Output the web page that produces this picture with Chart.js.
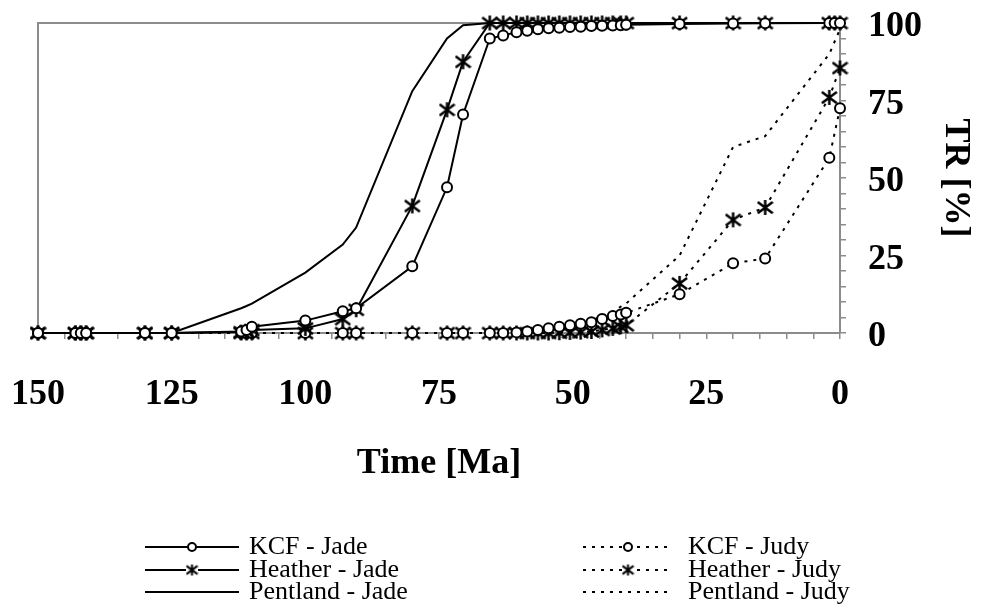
<!DOCTYPE html>
<html>
<head>
<meta charset="utf-8">
<script src="https://cdn.jsdelivr.net/npm/chart.js@4/dist/chart.umd.min.js"></script>
<style>
  html, body { margin: 0; padding: 0; background: #fff; }
  #wrap { width: 982px; height: 608px; position: relative; }
</style>
</head>
<body>
<div id="wrap"><canvas id="tr-chart"></canvas></div>
<script>
// time axis (Ma) shared by all series
const timesMa = [150, 143, 142, 141, 130, 125, 112, 111, 110, 100, 93, 90.5, 80, 73.5, 70.5, 65.5,
    63, 60.5, 58.5, 56.5, 54.5, 52.5, 50.5, 48.5, 46.5, 44.5, 42.5, 41, 40, 30, 20, 14, 2, 1, 0];

// transformation ratio, %
const kcfJade = [0, 0, 0, 0, 0, 0, 0.5, 1, 2, 4, 7, 8, 21.5, 47, 70.5, 95,
    96, 97, 97.5, 98, 98.3, 98.5, 98.7, 98.8, 99, 99.1, 99.2, 99.3, 99.4, 99.7, 99.8, 99.9, 100, 100, 100];
const heatherJade = [0, 0, 0, 0, 0, 0, 0.3, 0.5, 1, 1.5, 4.5, 7.5, 41, 72, 87.5, 100,
    100, 100, 100, 100, 100, 100, 100, 100, 100, 100, 100, 100, 100, 100, 100, 100, 100, 100, 100];
const pentlandJade = [0, 0, 0, 0, 0, 0, 8, 8.7, 9.5, 19.5, 28.5, 34, 78, 95, 99.3, 100,
    100, 100, 100, 100, 100, 100, 100, 100, 100, 100, 100, 100, 100, 100, 100, 100, 100, 100, 100];
const kcfJudy = [0, 0, 0, 0, 0, 0, 0, 0, 0, 0, 0, 0, 0, 0, 0, 0,
    0, 0.2, 0.5, 1, 1.5, 2, 2.5, 3, 3.5, 4.5, 5.5, 6, 6.5, 12.5, 22.5, 24, 56.5, null, 72.5];
const heatherJudy = [0, 0, 0, 0, 0, 0, 0, 0, 0, 0, 0, 0, 0, 0, 0, 0,
    0, 0, 0, 0, 0, 0.1, 0.2, 0.3, 0.5, 1, 1.5, 2, 2.5, 16, 36.5, 40.5, 76, null, 85.5];
const pentlandJudy = [0, 0, 0, 0, 0, 0, 0, 0, 0, 0, 0, 0, 0, 0, 0, 0,
    0, 0.2, 0.4, 0.7, 1, 1.5, 2, 3, 4, 5.5, 7, 8.5, 9.5, 25, 60, 63.5, 90, null, 98];

const seriesLabels = ['KCF - Jade', 'Heather - Jade', 'Pentland - Jade',
    'KCF - Judy', 'Heather - Judy', 'Pentland - Judy'];
const xTickLabels = [0, 25, 50, 75, 100, 125, 150];
const yTickLabels = [0, 25, 50, 75, 100];

const serif = "'Liberation Serif', 'Times New Roman', serif";
const gray = '#8c8c8c';
const dotted = [3, 6];

// excel-like asterisk marker
function makeStar(size, lw) {
    const c = document.createElement('canvas');
    c.width = size;
    c.height = size;
    const g = c.getContext('2d');
    const m = size / 2, r = size / 2 - 1;
    g.strokeStyle = '#000';
    g.lineWidth = lw;
    g.beginPath();
    g.moveTo(m, m - r); g.lineTo(m, m + r);
    g.moveTo(m - r, m - r * 0.75); g.lineTo(m + r, m + r * 0.75);
    g.moveTo(m + r, m - r * 0.75); g.lineTo(m - r, m + r * 0.75);
    g.stroke();
    return c;
}
const starMark = makeStar(17, 2.5);
const starSmall = makeStar(13, 2);

function toPoints(values) {
    return values.map((v, i) => ({ x: timesMa[i], y: v }));
}

function series(label, values, opts) {
    return Object.assign({
        label: label,
        data: toPoints(values),
        borderColor: '#000',
        backgroundColor: '#fff',
        borderWidth: 2,
        pointRadius: 0,
        pointBorderWidth: 2,
        pointBorderColor: '#000',
        pointBackgroundColor: '#fff',
        spanGaps: true,
        tension: 0,
        clip: false,
    }, opts);
}

const datasets = [
    series(seriesLabels[0], kcfJade, { pointStyle: 'circle', pointRadius: 5 }),
    series(seriesLabels[1], heatherJade, { pointStyle: starMark, pointRadius: 8 }),
    series(seriesLabels[2], pentlandJade, {}),
    series(seriesLabels[3], kcfJudy, { borderDash: dotted, pointStyle: 'circle', pointRadius: 5 }),
    series(seriesLabels[4], heatherJudy, { borderDash: dotted, pointStyle: starMark, pointRadius: 8 }),
    series(seriesLabels[5], pentlandJudy, { borderDash: dotted }),
];

// gray frame on top and left of the plot
const framePlugin = {
    id: 'frame',
    beforeDatasetsDraw(chart) {
        const { ctx, chartArea: a } = chart;
        ctx.save();
        ctx.strokeStyle = gray;
        ctx.lineWidth = 2;
        ctx.beginPath();
        ctx.moveTo(a.left, a.bottom);
        ctx.lineTo(a.left, a.top);
        ctx.lineTo(a.right, a.top);
        ctx.stroke();
        ctx.restore();
    }
};

// two column legend under the axis title
const legendPlugin = {
    id: 'twoColLegend',
    afterDraw(chart) {
        const ctx = chart.ctx;
        const rowsY = [547, 570, 592];
        chart.data.datasets.forEach((ds, i) => {
            const col = i < 3 ? 0 : 1;
            const y = rowsY[i % 3];
            const x0 = col ? 583 : 145;
            const x1 = col ? 673 : 239;
            const tx = col ? 688 : 249;
            ctx.save();
            ctx.strokeStyle = '#000';
            ctx.lineWidth = 2;
            ctx.setLineDash(ds.borderDash || []);
            ctx.beginPath();
            ctx.moveTo(x0, y);
            ctx.lineTo(x1, y);
            ctx.stroke();
            ctx.setLineDash([]);
            const mx = (x0 + x1) / 2;
            if (ds.pointStyle === 'circle') {
                ctx.fillStyle = '#fff';
                ctx.beginPath();
                ctx.arc(mx, y, 4, 0, Math.PI * 2);
                ctx.fill();
                ctx.stroke();
            } else if (ds.pointStyle) {
                ctx.fillStyle = '#fff';
                ctx.fillRect(mx - 6, y - 2, 12, 4);
                ctx.drawImage(starSmall, mx - 6.5, y - 6.5);
            }
            ctx.fillStyle = '#000';
            ctx.font = '26px ' + serif;
            ctx.textBaseline = 'middle';
            ctx.textAlign = 'left';
            ctx.fillText(ds.label, tx, y);
            ctx.restore();
        });
    }
};

function noScalePadding(scale) {
    scale.paddingLeft = 0;
    scale.paddingRight = 0;
    scale.paddingTop = 0;
    scale.paddingBottom = 0;
}

const ctx = document.getElementById('tr-chart').getContext('2d');
new Chart(ctx, {
    type: 'line',
    data: { datasets: datasets },
    options: {
        responsive: true,
        maintainAspectRatio: false,
        animation: false,
        layout: { padding: { left: 38, top: 23, right: 0, bottom: 75 } },
        plugins: {
            legend: { display: false },
            tooltip: { enabled: false },
        },
        scales: {
            x: {
                type: 'linear',
                reverse: true,
                min: 0,
                max: 150,
                afterFit: (scale) => { scale.height = 200; noScalePadding(scale); },
                border: { display: true, color: gray, width: 2 },
                grid: { drawOnChartArea: false, drawTicks: true, tickLength: 6, color: gray, lineWidth: 1.5 },
                ticks: {
                    stepSize: 5,
                    autoSkip: false,
                    maxRotation: 0,
                    padding: 34,
                    color: '#000',
                    font: { family: serif, size: 36, weight: 'bold' },
                    callback: (v) => xTickLabels.includes(v) ? String(v) : '',
                },
                title: {
                    display: true,
                    text: 'Time [Ma]',
                    color: '#000',
                    font: { family: serif, size: 36, weight: 'bold' },
                    padding: { top: 0, bottom: 48 },
                },
            },
            y: {
                type: 'linear',
                position: 'right',
                min: 0,
                max: 100,
                afterFit: (scale) => { scale.width = 142; noScalePadding(scale); },
                border: { display: true, color: gray, width: 2 },
                grid: { drawOnChartArea: false, drawTicks: true, tickLength: 6, color: gray, lineWidth: 1.5 },
                ticks: {
                    stepSize: 5,
                    autoSkip: false,
                    padding: 22,
                    labelOffset: 4,
                    color: '#000',
                    font: { family: serif, size: 36, weight: 'bold' },
                    callback: (v) => yTickLabels.includes(v) ? String(v) : '',
                },
                title: {
                    display: true,
                    text: 'TR [%]',
                    color: '#000',
                    font: { family: serif, size: 36, weight: 'bold' },
                    padding: { top: 5, bottom: 0 },
                },
            },
        },
    },
    plugins: [framePlugin, legendPlugin],
});
</script>
</body>
</html>
